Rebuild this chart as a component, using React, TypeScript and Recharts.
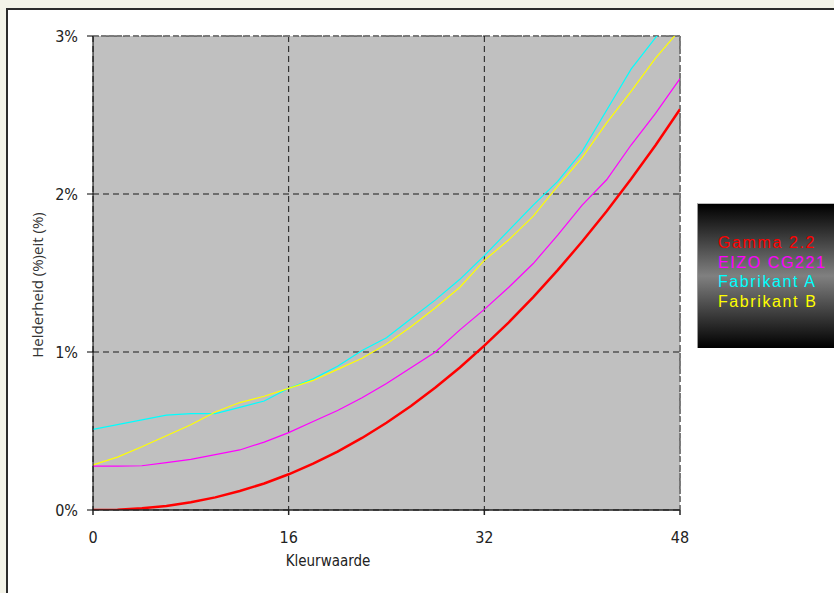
import React from "react";
import {
  CartesianGrid,
  Line,
  LineChart,
  ReferenceLine,
  XAxis,
  YAxis,
} from "recharts";

const kleurwaarden = [0, 2, 4, 6, 8, 10, 12, 14, 16, 18, 20, 22, 24, 26, 28, 30, 32, 34, 36, 38, 40, 42, 44, 46, 48];

const gamma22 = [0, 0.002, 0.011, 0.026, 0.049, 0.08, 0.12, 0.168, 0.226, 0.293, 0.37, 0.456, 0.552, 0.658, 0.775, 0.902, 1.04, 1.188, 1.347, 1.518, 1.699, 1.891, 2.095, 2.309, 2.537];
const eizo = [0.278, 0.278, 0.28, 0.3, 0.32, 0.35, 0.38, 0.43, 0.49, 0.56, 0.63, 0.71, 0.8, 0.9, 1.0, 1.14, 1.27, 1.41, 1.56, 1.74, 1.93, 2.09, 2.31, 2.51, 2.73];
const fabrikantA = [0.51, 0.54, 0.57, 0.6, 0.61, 0.61, 0.65, 0.69, 0.77, 0.83, 0.91, 1.01, 1.09, 1.21, 1.33, 1.46, 1.61, 1.77, 1.93, 2.08, 2.27, 2.53, 2.79, 2.99, 3.17];
const fabrikantB = [0.285, 0.335, 0.4, 0.47, 0.54, 0.62, 0.68, 0.72, 0.77, 0.82, 0.89, 0.96, 1.05, 1.16, 1.28, 1.41, 1.58, 1.71, 1.86, 2.05, 2.23, 2.45, 2.65, 2.86, 3.04];

const xTicks = [0, 16, 32, 48];
const yTicks = [0, 1, 2, 3];

const series = [
  { key: "gamma", name: "Gamma 2.2", color: "#ff0000", width: 2.5 },
  { key: "eizo", name: "EIZO CG221", color: "#ff00ff", width: 1.2 },
  { key: "a", name: "Fabrikant A", color: "#00ffff", width: 1.2 },
  { key: "b", name: "Fabrikant B", color: "#ffff00", width: 1.2 },
];

const data = kleurwaarden.map((x, i) => ({
  x,
  gamma: gamma22[i],
  eizo: eizo[i],
  a: fabrikantA[i],
  b: fabrikantB[i],
}));

const tickFont = "'Liberation Sans Narrow', 'DejaVu Sans Condensed', 'Arial Narrow', sans-serif";

export default function App() {
  return (
    <div>
      <style>{`body{margin:0;background:#f3f3e8;}`}</style>
      <div
        style={{
          position: "absolute",
          left: 6,
          top: 8,
          width: 828,
          height: 585,
          boxSizing: "border-box",
          borderLeft: "2px solid #2b2b2b",
          borderTop: "2px solid #2b2b2b",
          background: "#fff",
          overflow: "hidden",
        }}
      >
        <LineChart
          width={826}
          height={583}
          data={data}
          margin={{ top: 26, right: 154, bottom: 0, left: 0 }}
        >
          <CartesianGrid
            fill="#c0c0c0"
            stroke="#1a1a1a"
            strokeDasharray="6 4"
            horizontalValues={yTicks}
            verticalValues={xTicks}
          />
          <ReferenceLine y={3} stroke="#7a7a7a" strokeWidth={2} strokeDasharray="5 3" />
          <ReferenceLine x={48} stroke="#7a7a7a" strokeWidth={2} strokeDasharray="5 3" />
          <XAxis
            dataKey="x"
            type="number"
            domain={[0, 48]}
            ticks={xTicks}
            allowDataOverflow
            height={83}
            stroke="#222"
            strokeWidth={1.5}
            tickSize={5}
            tickMargin={17}
            tick={{ fill: "#222", fontSize: 16, fontFamily: tickFont }}
            label={{
              content: () => (
                <text x={320} y={556} textAnchor="middle" fill="#222" fontSize={15} fontFamily={tickFont}>
                  Kleurwaarde
                </text>
              ),
            }}
          />
          <YAxis
            type="number"
            domain={[0, 3]}
            ticks={yTicks}
            allowDataOverflow
            width={85}
            stroke="#000"
            tickSize={6}
            tickMargin={9}
            tickFormatter={(v: number) => `${v}%`}
            tick={{ fill: "#222", fontSize: 16, fontFamily: tickFont }}
            label={{
              content: () => (
                <text
                  x={29}
                  y={275}
                  transform="rotate(-90 29 275)"
                  textAnchor="middle"
                  dominantBaseline="central"
                  fill="#333"
                  fontSize={15}
                  fontFamily="'Open Sans', sans-serif"
                >
                  Helderheid (%)eit (%)
                </text>
              ),
            }}
          />
          {series.map((s) => (
            <Line
              key={s.key}
              type="linear"
              dataKey={s.key}
              name={s.name}
              stroke={s.color}
              strokeWidth={s.width}
              dot={false}
              isAnimationActive={false}
            />
          ))}
        </LineChart>
        <div
          style={{
            position: "absolute",
            left: 689,
            top: 193,
            width: 140,
            height: 145,
            boxSizing: "border-box",
            borderTop: "1px solid #bbb",
            borderLeft: "1px solid #999",
            background: "linear-gradient(to bottom, #000 0%, #808080 50%, #000 100%)",
            paddingTop: 29,
            paddingLeft: 20,
            fontFamily: "'Liberation Sans', Arial, sans-serif",
            fontSize: 16,
            letterSpacing: 1.6,
            lineHeight: "19.5px",
          }}
        >
          {series.map((s) => (
            <div key={s.key} style={{ color: s.color, whiteSpace: "nowrap" }}>
              {s.name}
            </div>
          ))}
        </div>
      </div>
    </div>
  );
}
